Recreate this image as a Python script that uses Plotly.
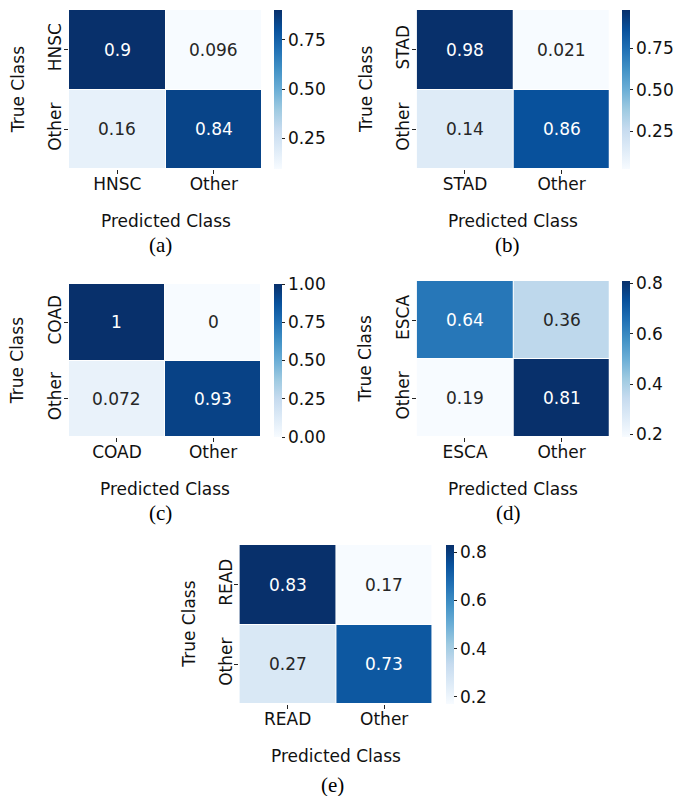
import plotly.graph_objects as go

W, H = 674, 796

# ---- data ----
panel_classes = ["HNSC", "STAD", "COAD", "ESCA", "READ"]
other_label = "Other"
cm_hnsc = [[0.9, 0.096], [0.16, 0.84]]
cm_stad = [[0.98, 0.021], [0.14, 0.86]]
cm_coad = [[1.0, 0.0], [0.072, 0.93]]
cm_esca = [[0.64, 0.36], [0.19, 0.81]]
cm_read = [[0.83, 0.17], [0.27, 0.73]]
matrices = [cm_hnsc, cm_stad, cm_coad, cm_esca, cm_read]
captions = ["(a)", "(b)", "(c)", "(d)", "(e)"]
cbar_ticks = [
    [0.25, 0.50, 0.75],
    [0.25, 0.50, 0.75],
    [0.00, 0.25, 0.50, 0.75, 1.00],
    [0.2, 0.4, 0.6, 0.8],
    [0.2, 0.4, 0.6, 0.8],
]
cbar_fmt = [".2f", ".2f", ".2f", ".1f", ".1f"]

# ---- layout in pixels (left, right, top, bottom) ----
boxes = [
    (70, 266, 10, 169),
    (423, 619, 10, 169),
    (70, 265, 284, 437),
    (423, 619, 281, 437),
    (243, 439, 545, 704),
]
cbar_left = [278, 631, 278, 631, 453]
caption_pos = [(163, 245), (515, 245), (163, 513), (516, 513), (337, 785)]

blues = [(247, 251, 255), (222, 235, 247), (198, 219, 239), (158, 202, 225),
         (107, 174, 214), (66, 146, 198), (33, 113, 181), (8, 81, 156), (8, 48, 107)]
colorscale = [[i / (len(blues) - 1), "rgb(%d,%d,%d)" % c] for i, c in enumerate(blues)]


def interp(t):
    t = min(max(t, 0.0), 1.0)
    n = len(blues) - 1
    i = min(int(t * n), n - 1)
    f = t * n - i
    return tuple(blues[i][k] + (blues[i + 1][k] - blues[i][k]) * f for k in range(3))


def luminance(rgb):
    out = []
    for c in rgb:
        c = c / 255.0
        out.append(c / 12.92 if c <= 0.03928 else ((c + 0.055) / 1.055) ** 2.4)
    return 0.2126 * out[0] + 0.7152 * out[1] + 0.0722 * out[2]


FONT = "DejaVu Sans"
FS = 17
fig = go.Figure()
annotations = []
layout = {}

for i, (cls, cm) in enumerate(zip(panel_classes, matrices)):
    n = i + 1
    xa = "x" if n == 1 else "x%d" % n
    ya = "y" if n == 1 else "y%d" % n
    cats = [cls, other_label]
    zmin = min(min(r) for r in cm)
    zmax = max(max(r) for r in cm)
    l, r, t, b = boxes[i]
    fig.add_trace(go.Heatmap(
        z=cm, x=cats, y=cats, xaxis=xa, yaxis=ya,
        colorscale=colorscale, zmin=zmin, zmax=zmax,
        xgap=1, ygap=1, hoverinfo="skip",
        colorbar=dict(
            x=cbar_left[i] / W, xanchor="left", thickness=8, thicknessmode="pixels",
            len=(b - t) / H, lenmode="fraction", y=1 - (t + b) / 2 / H, yanchor="middle",
            xpad=0, ypad=0, outlinewidth=0,
            tickvals=cbar_ticks[i], tickformat=cbar_fmt[i],
            ticks="outside", ticklen=3, tickwidth=0.8, tickcolor="#222",
            tickfont=dict(family=FONT, size=FS, color="#111"),
        ),
    ))
    axkey = "xaxis" if n == 1 else "xaxis%d" % n
    aykey = "yaxis" if n == 1 else "yaxis%d" % n
    layout[axkey] = dict(
        domain=[l / W, r / W], anchor=ya, type="category",
        showgrid=False, zeroline=False, showline=False,
        ticks="outside", ticklen=4, tickwidth=0.8, tickcolor="#222",
        ticklabelstandoff=-4,
        tickfont=dict(family=FONT, size=FS, color="#111"),
    )
    layout[aykey] = dict(
        domain=[1 - b / H, 1 - t / H], anchor=xa, type="category",
        autorange="reversed", showgrid=False, zeroline=False, showline=False,
        ticks="outside", ticklen=4, tickwidth=0.8, tickcolor="#222", tickangle=-90,
        ticklabelstandoff=-4,
        tickfont=dict(family=FONT, size=FS, color="#111"),
    )
    # cell values
    for ri, row in enumerate(cm):
        for ci, v in enumerate(row):
            col = interp((v - zmin) / (zmax - zmin) if zmax > zmin else 0)
            tc = "#262626" if luminance(col) > 0.408 else "white"
            annotations.append(dict(
                x=cats[ci], y=cats[ri], xref=xa, yref=ya, text=f"{v:.2g}",
                showarrow=False, font=dict(family=FONT, size=FS, color=tc),
            ))
    # axis titles
    annotations.append(dict(
        x=(l + r) / 2 / W, y=1 - (b + 52) / H, xref="paper", yref="paper",
        text="Predicted Class", showarrow=False, xanchor="center", yanchor="middle",
        font=dict(family=FONT, size=FS, color="#111"),
    ))
    annotations.append(dict(
        x=(l - 52) / W, y=1 - (t + b) / 2 / H, xref="paper", yref="paper",
        text="True Class", showarrow=False, xanchor="center", yanchor="middle",
        textangle=-90, font=dict(family=FONT, size=FS, color="#111"),
    ))
    cx, cy = caption_pos[i]
    annotations.append(dict(
        x=cx / W, y=1 - cy / H, xref="paper", yref="paper",
        text=captions[i], showarrow=False, xanchor="center", yanchor="middle",
        font=dict(family="Liberation Serif", size=21, color="black"),
    ))

fig.update_layout(
    width=W, height=H, autosize=False,
    margin=dict(l=0, r=0, t=0, b=0),
    paper_bgcolor="white", plot_bgcolor="white",
    showlegend=False, annotations=annotations, **layout,
)

fig.write_html("out.html")
